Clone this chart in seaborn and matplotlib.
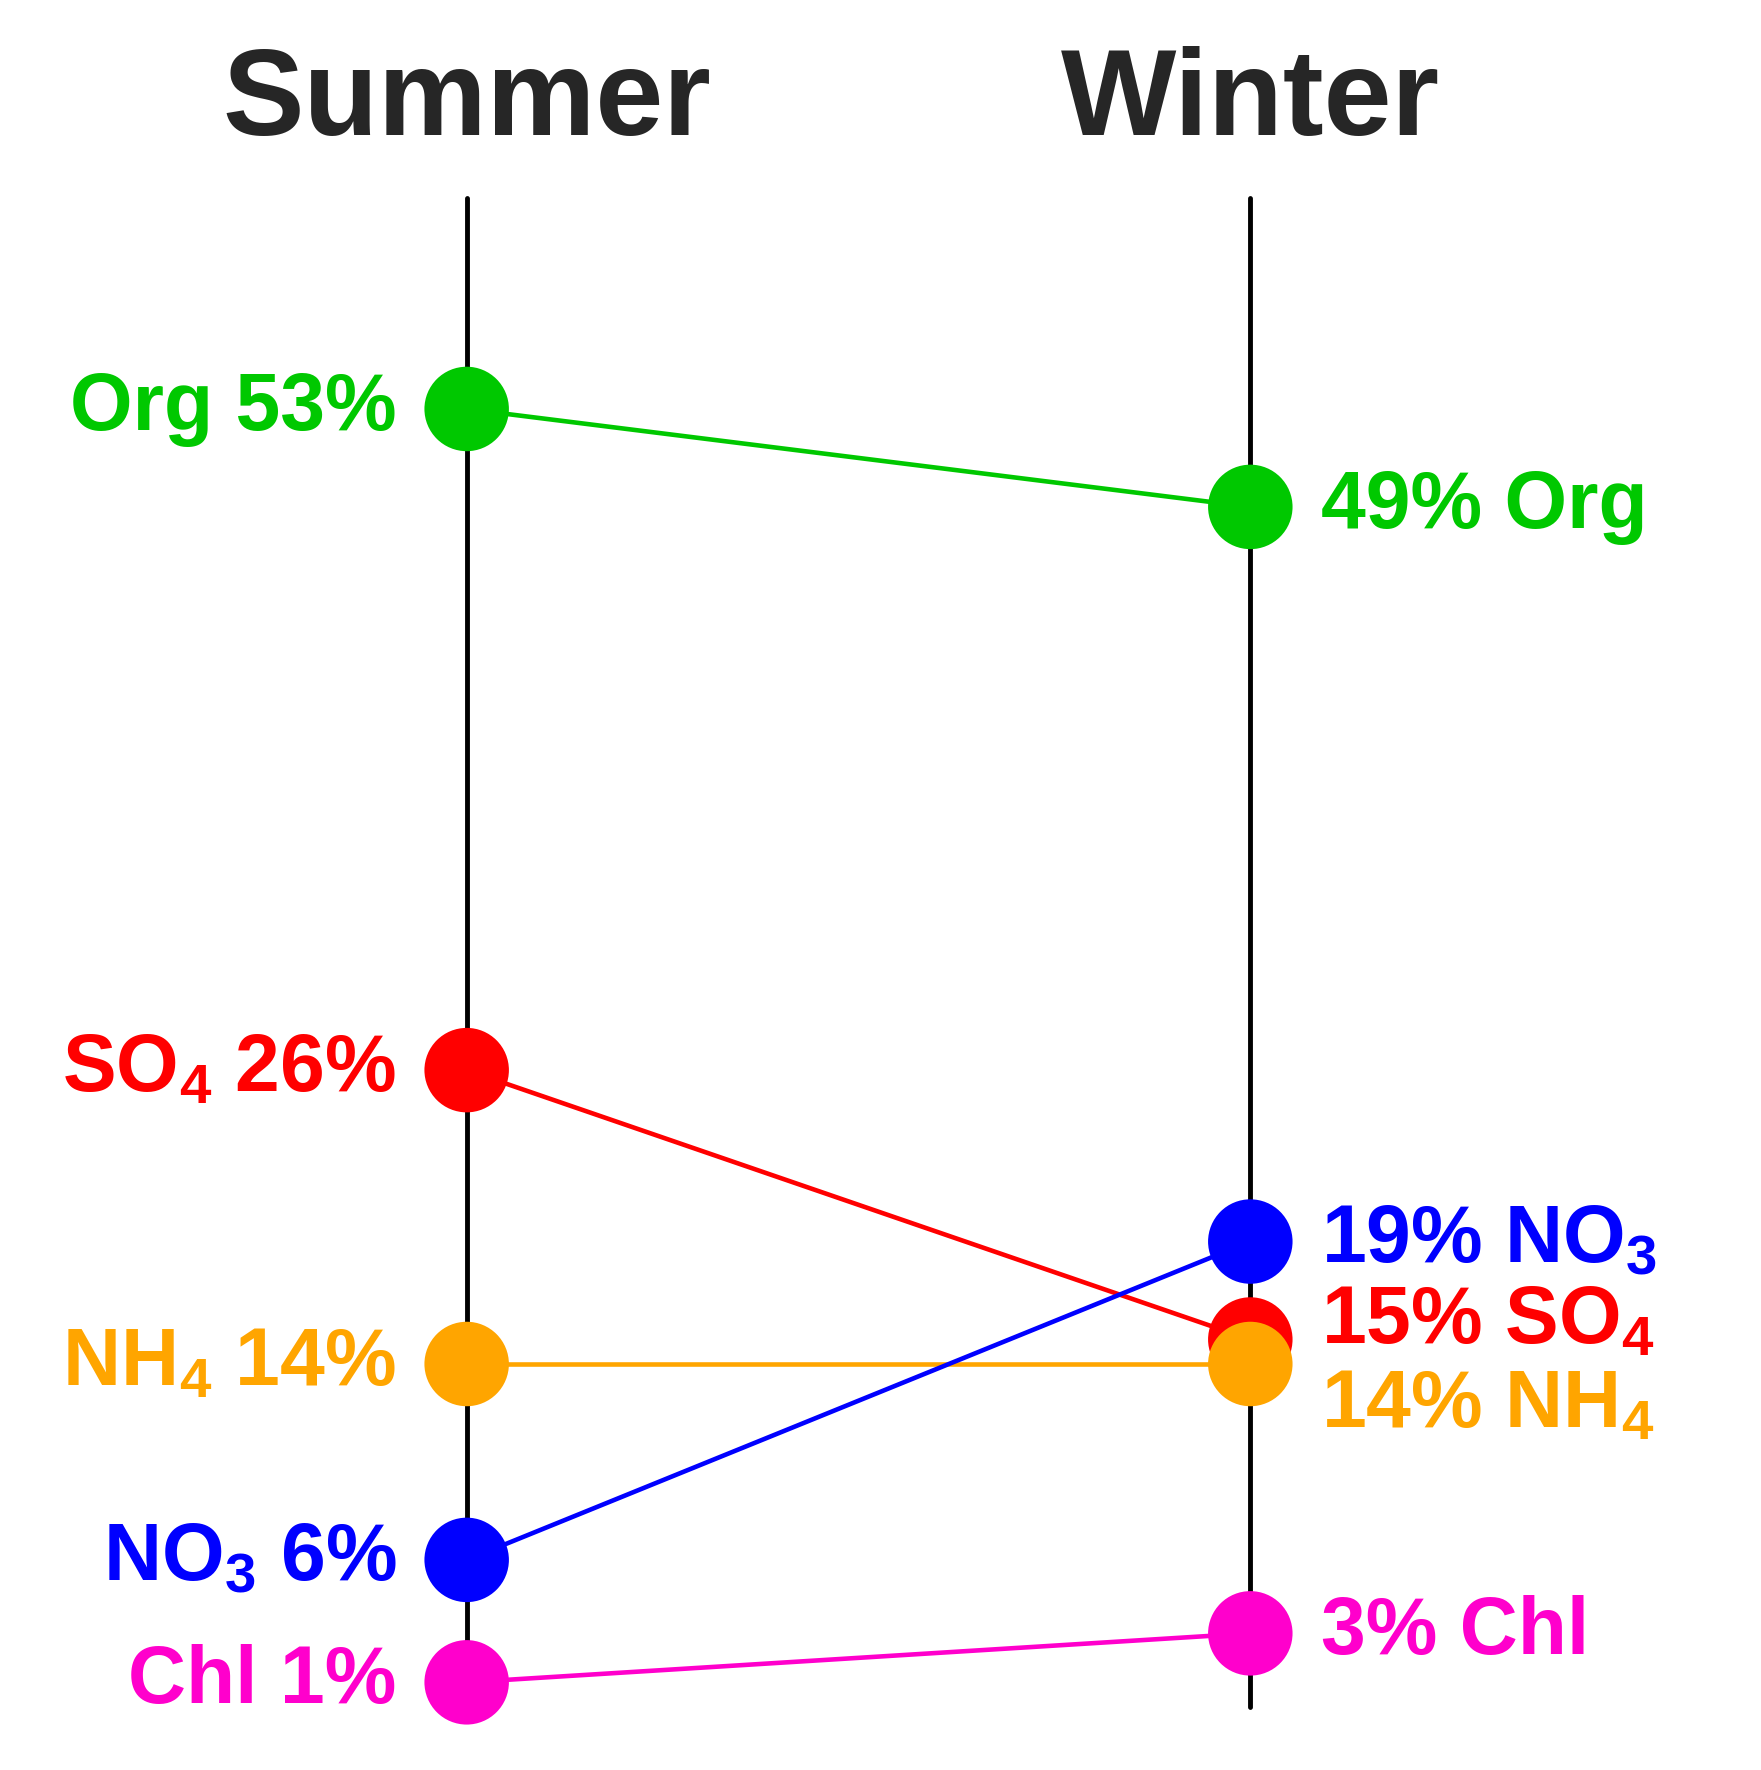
import matplotlib
matplotlib.use("Agg")
import matplotlib.pyplot as plt
import pandas as pd
import seaborn as sns

seasons = ["Summer", "Winter"]
species = ["Org", "SO4", "NH4", "NO3", "Chl"]
labels = ["Org", r"SO$_4$", r"NH$_4$", r"NO$_3$", "Chl"]
summer = [53, 26, 14, 6, 1]
winter = [49, 15, 14, 19, 3]
colors = ["#00c800", "#ff0000", "#ffa500", "#0000ff", "#ff00cc"]

# label nudges (in percent units) so overlapping winter labels stay readable
winter_nudge = [0, 0.7, -1.7, 0, 0]
summer_nudge = [0, 0, 0, 0, 0]

sns.set_style("white")
plt.rcParams["font.family"] = ["Liberation Sans", "DejaVu Sans"]
plt.rcParams["font.weight"] = "bold"
plt.rcParams["mathtext.fontset"] = "custom"
plt.rcParams["mathtext.rm"] = "Liberation Sans:bold"
plt.rcParams["mathtext.it"] = "Liberation Sans:bold"
plt.rcParams["mathtext.bf"] = "Liberation Sans:bold"

xpos = {"Summer": 0.265, "Winter": 0.71}
rows = []
for sp, s, w in zip(species, summer, winter):
    rows.append({"season": "Summer", "x": xpos["Summer"], "species": sp, "value": s})
    rows.append({"season": "Winter", "x": xpos["Winter"], "species": sp, "value": w})
df = pd.DataFrame(rows)

fig = plt.figure(figsize=(17.61, 17.70), dpi=100)
ax = fig.add_axes([0, 0, 1, 1])
ax.set_xlim(0, 1)
ax.set_ylim(-2.58, 69.7)
ax.axis("off")

for season in seasons:
    ax.plot([xpos[season]] * 2, [0, 61.6], color="black", lw=3.5, zorder=1)
    ax.text(xpos[season], 65.5, season, ha="center", va="center",
            fontsize=88, fontweight="bold")

sns.lineplot(data=df, x="x", y="value", hue="species", palette=colors,
             hue_order=species, lw=3.3, legend=False, ax=ax, zorder=2)
sns.scatterplot(data=df, x="x", y="value", hue="species", palette=colors,
                hue_order=species, s=3700, edgecolor="none", legend=False,
                ax=ax, zorder=3)

for lab, s, w, c, sn, wn in zip(labels, summer, winter, colors, summer_nudge, winter_nudge):
    ax.text(0.225, s + sn, f"{lab} {s}%", ha="right", va="center",
            fontsize=58, fontweight="bold", color=c)
    ax.text(0.75, w + wn, f"{w}% {lab}", ha="left", va="center",
            fontsize=58, fontweight="bold", color=c)

fig.savefig("out.png", dpi=100)
